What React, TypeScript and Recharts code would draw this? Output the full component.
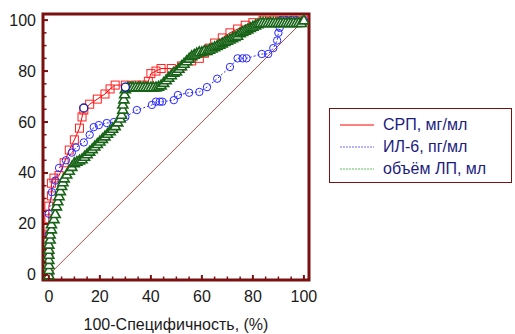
import React from "react";
import {
  ScatterChart,
  Scatter,
  XAxis,
  YAxis,
  ReferenceLine,
  ReferenceArea,
  Legend,
} from "recharts";

// ROC curves, values in %
const crpX = [0, 0, 0, 0, 0, 1, 1, 2, 4, 6, 8, 10, 12, 13, 13.7, 16, 19, 22, 24, 26, 30, 34, 37, 39, 40, 42, 44, 48, 52, 56, 59, 61, 63, 65, 68, 71, 74, 77, 80, 84, 88, 92, 96, 100];
const crpY = [0, 8, 16, 22, 27, 31, 36, 38, 39, 44, 49, 53, 57.6, 62, 64.7, 67, 69, 71, 73, 74.5, 74.5, 74.5, 74.5, 76, 79, 80, 81, 81, 82, 84, 85, 87, 89, 91, 93, 95, 96.5, 98, 99, 100, 100, 100, 100, 100];

const il6X = [0, 0, 0, 0, 1.2, 2.5, 4, 6.7, 9, 10.6, 13.7, 16, 17.6, 19.6, 22.7, 25.5, 30, 34.5, 40.4, 42, 43.5, 44.5, 49, 50.6, 55, 59, 62, 66, 71, 74, 76, 77.5, 83.5, 86, 88, 89.5, 90, 90.5, 91, 93, 95, 97, 100];
const il6Y = [0, 8, 16, 24, 32.5, 37, 42, 45, 48, 50, 52, 55, 58, 58.8, 59.6, 60, 62, 64.7, 66.7, 68, 68, 68, 68.6, 70.6, 71.5, 71.8, 73.7, 77, 81.6, 85, 85, 85, 86.7, 86.7, 89, 92, 95, 97, 100, 100, 100, 100, 100];

const volX = [0, 0, 0, 0, 0, 0, 0, 0.5, 0.5, 1, 1, 2, 2.5, 3, 3.5, 4, 4.5, 5, 5.5, 6, 7, 8, 9, 10, 11, 12, 13, 14, 15, 16, 17, 18, 19, 20, 21, 22, 23, 24, 25, 26, 27, 28, 28.5, 29, 29, 29.4, 29.7, 30, 31, 32, 33, 34, 35, 36, 37, 38, 39, 40, 41, 42, 43, 44, 45, 46, 47, 48, 49, 50, 51, 52, 53, 54, 55, 56, 57, 58, 59, 60, 61, 62, 63, 64, 65, 66, 67, 68, 69, 70, 71, 72, 73, 74, 75, 76, 77, 78, 79, 80, 81, 82, 83, 84, 85, 86, 87, 88, 89, 90, 91, 92, 93, 94, 95, 96, 97, 98, 99, 100];
const volY = [0, 2, 4, 6, 8, 10, 12, 14, 16, 18, 20, 22, 24, 27, 29, 31, 33, 35, 36.5, 38, 39.5, 41, 42.5, 44, 44.5, 45, 45.5, 46.5, 47.5, 48.5, 49.5, 50.5, 51.5, 52.5, 53.5, 54.5, 55.5, 56.5, 57.5, 58.5, 60, 61.5, 63, 65, 67, 69, 71, 73, 73.7, 73.7, 73.7, 73.7, 73.7, 73.7, 73.7, 73.7, 73.7, 73.7, 73.7, 73.7, 74, 74.5, 75.5, 76.5, 77.5, 78.5, 79.5, 80, 81, 82, 83, 84, 85, 86, 86.5, 87, 87.5, 87.5, 88, 88, 88.5, 89, 89.5, 90, 90.5, 91, 91.5, 92, 92.5, 93, 93.5, 94, 95, 95.5, 96, 96.5, 97, 97.5, 98, 98.5, 99, 99, 99, 99, 99, 99, 99, 99, 99, 99, 99, 99, 99, 99, 99, 99, 99, 100];

// optimal cut-off markers
const optX = [13.7, 30];
const optY = [65.5, 73.7];

const xTicks = [0, 5, 10, 15, 20, 25, 30, 35, 40, 45, 50, 55, 60, 65, 70, 75, 80, 85, 90, 95, 100];
const yTicks = [0, 5, 10, 15, 20, 25, 30, 35, 40, 45, 50, 55, 60, 65, 70, 75, 80, 85, 90, 95, 100];

const seriesNames = ["СРП, мг/мл", "ИЛ-6, пг/мл", "объём ЛП, мл"];
const xLabel = "100-Специфичность, (%)";

const toPoints = (xs: number[], ys: number[]) => xs.map((x, i) => ({ x, y: ys[i] }));

const AXIS = "#7a1010";
const FONT = "'Liberation Sans', Arial, sans-serif";

const legendLines = [
  { color: "#ff0000", dash: undefined },
  { color: "#6a6aff", dash: "2 1" },
  { color: "#60c060", dash: "2 1" },
];

const Square = (p: any) => (
  <rect x={p.cx - 4} y={p.cy - 4} width={8} height={8} fill="none" stroke="#ff2020" strokeWidth={1} />
);
const Circle = (p: any) => (
  <circle cx={p.cx} cy={p.cy} r={3.7} fill="none" stroke="#2a2aff" strokeWidth={1} />
);
const Triangle = (p: any) => (
  <path
    d={`M${p.cx},${p.cy - 5} L${p.cx + 5},${p.cy + 3.8} L${p.cx - 5},${p.cy + 3.8} Z`}
    fill="#fff"
    stroke="#176317"
    strokeWidth={1.6}
  />
);
const OptCircle = (p: any) => (
  <circle cx={p.cx} cy={p.cy} r={4} fill="#fff" stroke="#1a1a9a" strokeWidth={1.3} />
);

const XTick = (props: any) => {
  const { x, y, payload } = props;
  const major = payload.value % 20 === 0;
  return (
    <g>
      <line x1={x} x2={x} y1={y} y2={y - (major ? 5 : 3.5)} stroke={AXIS} strokeWidth={major ? 2 : 1.5} />
      {major && (
        <text x={x} y={y + 22} textAnchor="middle" fontSize={16} fontFamily={FONT} fill="#1a1a1a">
          {payload.value}
        </text>
      )}
    </g>
  );
};

const YTick = (props: any) => {
  const { x, y, payload } = props;
  const major = payload.value % 20 === 0;
  return (
    <g>
      <line x1={x} x2={x + (major ? 5 : 3.5)} y1={y} y2={y} stroke={AXIS} strokeWidth={major ? 2 : 1.5} />
      {major && (
        <text x={x - 7} y={y + 5.5} textAnchor="end" fontSize={16} fontFamily={FONT} fill="#1a1a1a">
          {payload.value}
        </text>
      )}
    </g>
  );
};

const LegendBox = () => (
  <div
    style={{
      width: 183,
      height: 75,
      border: `1px solid ${AXIS}`,
      boxSizing: "border-box",
      paddingTop: 5,
      fontFamily: FONT,
      fontSize: 16,
      color: "#1c1c80",
      background: "#fff",
    }}
  >
    {seriesNames.map((name, i) => (
      <div key={name} style={{ display: "flex", alignItems: "center", height: 22 }}>
        <svg width={53} height={22}>
          <line
            x1={10}
            x2={44}
            y1={11}
            y2={11}
            stroke={legendLines[i].color}
            strokeWidth={1}
            strokeDasharray={legendLines[i].dash}
          />
        </svg>
        <span>{name}</span>
      </div>
    ))}
  </div>
);

export default function App() {
  return (
    <div style={{ position: "absolute", left: 0, top: 0 }}>
      <ScatterChart width={515} height={334} margin={{ top: 14, right: 23, bottom: 0, left: 0 }}>
        <XAxis
          type="number"
          dataKey="x"
          domain={[-2.3, 102]}
          ticks={xTicks}
          allowDataOverflow
          height={54}
          axisLine={false}
          tickLine={false}
          tickSize={0}
          tickMargin={0}
          tick={<XTick />}
          interval={0}
          label={{ value: xLabel, position: "insideBottom", offset: 4, fontSize: 16, fontFamily: FONT, fill: "#1a1a1a" }}
        />
        <YAxis
          type="number"
          dataKey="y"
          domain={[-2, 102.4]}
          ticks={yTicks}
          allowDataOverflow
          width={43}
          axisLine={false}
          tickLine={false}
          tickSize={0}
          tickMargin={0}
          tick={<YTick />}
          interval={0}
        />
        <ReferenceLine
          segment={[{ x: 0, y: 0 }, { x: 100, y: 100 }]}
          stroke="#b04a4a"
          strokeWidth={1}
        />
        <Scatter
          name={seriesNames[0]}
          data={toPoints(crpX, crpY)}
          line={{ stroke: "#ff0000", strokeWidth: 1 }}
          shape={Square}
          isAnimationActive={false}
        />
        <Scatter
          name={seriesNames[1]}
          data={toPoints(il6X, il6Y)}
          line={{ stroke: "#2a2aff", strokeWidth: 1, strokeDasharray: "2 2" }}
          shape={Circle}
          isAnimationActive={false}
        />
        <Scatter
          name={seriesNames[2]}
          data={toPoints(volX, volY)}
          line={{ stroke: "#1f7a1f", strokeWidth: 1, strokeDasharray: "2 2" }}
          shape={Triangle}
          isAnimationActive={false}
        />
        <Scatter
          name="opt"
          legendType="none"
          data={toPoints(optX, optY)}
          shape={OptCircle}
          isAnimationActive={false}
        />
        <ReferenceArea
          x1={-2.3}
          x2={102}
          y1={-2}
          y2={102.4}
          fill="none"
          fillOpacity={0}
          stroke={AXIS}
          strokeWidth={3}
        />
        <Legend
          layout="vertical"
          align="right"
          verticalAlign="middle"
          content={<LegendBox />}
          wrapperStyle={{ position: "absolute", left: 329, top: 108, width: 183 }}
        />
      </ScatterChart>
    </div>
  );
}
